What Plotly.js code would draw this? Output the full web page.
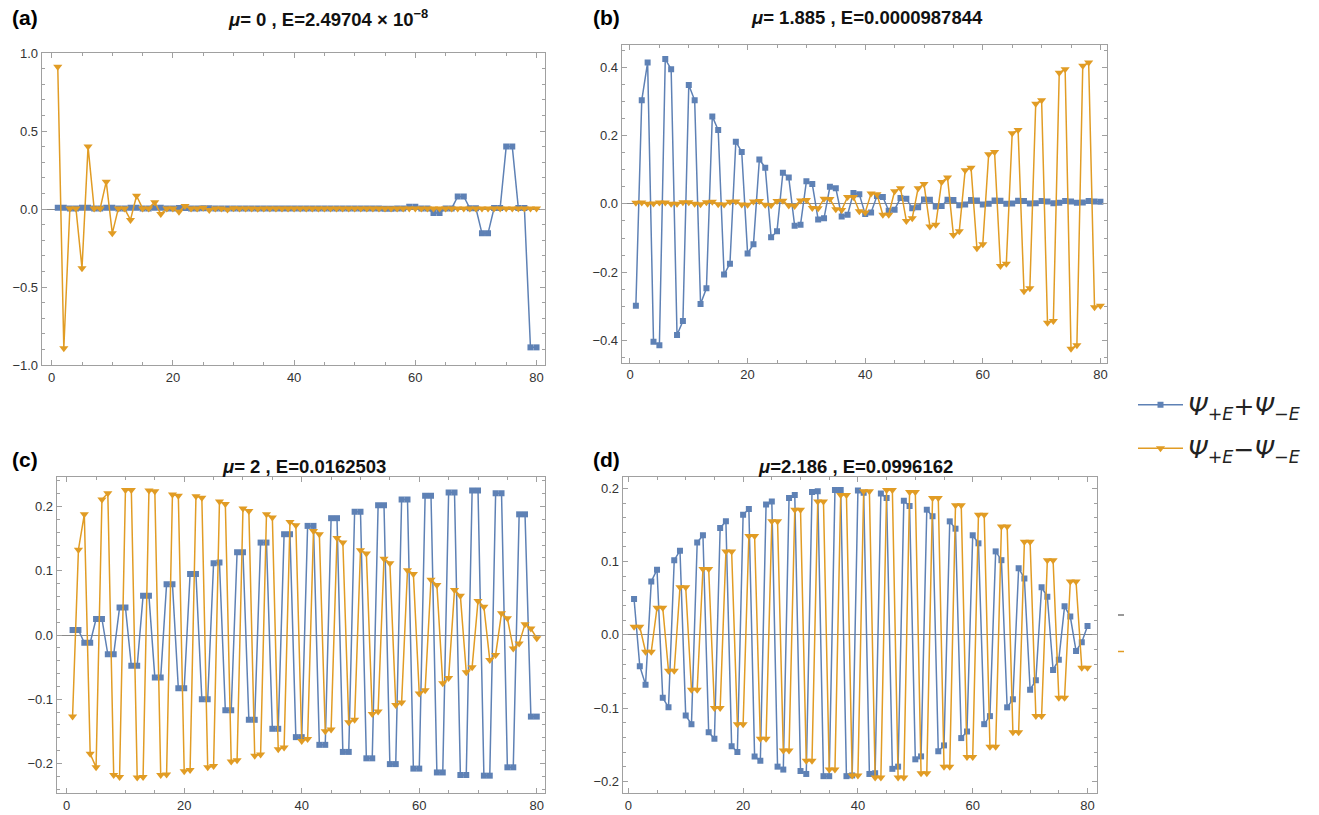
<!DOCTYPE html>
<html><head><meta charset="utf-8">
<script src="https://cdn.plot.ly/plotly-3.0.1.min.js"></script>
<style>html,body{margin:0;padding:0;background:#fff}#chart{width:1319px;height:815px}</style>
</head><body><div id="chart"></div>
<script>
const sites = [1,2,3,4,5,6,7,8,9,10,11,12,13,14,15,16,17,18,19,20,21,22,23,24,25,26,27,28,29,30,31,32,33,34,35,36,37,38,39,40,41,42,43,44,45,46,47,48,49,50,51,52,53,54,55,56,57,58,59,60,61,62,63,64,65,66,67,68,69,70,71,72,73,74,75,76,77,78,79,80];

// (a) mu = 0
const aSum = [0.008,0.008,0.003,0.003,0.008,0.008,0.003,0.003,0.008,0.008,0.003,0.003,0.008,0.008,0.003,0.003,0.008,0.008,0.003,0.003,
  0.006,0.006,0.003,0.003,0.005,0.005,0.003,0.003,0.004,0.004,0.003,0.003,0.004,0.004,0.003,0.003,0.003,0.003,0.003,0.003,
  0.003,0.003,0.003,0.003,0.003,0.003,0.003,0.003,0.003,0.003,0.003,0.003,0.003,0.003,0.002,0.002,0.004,0.004,0.015,0.015,
  0.003,0.003,-0.025,-0.025,0.004,0.004,0.080,0.080,0.005,0.005,-0.156,-0.156,0.006,0.006,0.400,0.400,0.006,0.006,-0.887,-0.887];
const aDiff = [0.912,-0.893,0.004,0.004,-0.380,0.400,0.004,0.004,0.175,-0.156,0.004,0.004,-0.070,0.085,0.004,0.004,0.043,-0.032,0.004,0.004,
  -0.017,0.020,0.003,0.003,0.008,-0.006,0.003,0.003,-0.004,0.005,0.003,0.003,0.004,0.002,0.003,0.003,0.003,0.003,0.003,0.003,
  0.003,0.003,0.003,0.003,0.003,0.003,0.003,0.003,0.003,0.003,0.003,0.003,0.003,0.003,0.003,0.003,0.003,0.003,0.003,0.003,
  0.003,0.003,0.003,0.003,0.003,0.003,0.003,0.003,0.003,0.003,0.003,0.003,0.003,0.003,0.003,0.003,0.003,0.003,0.003,0.003];

// (b) mu = 1.885
const bSum = [-0.298,0.303,0.414,-0.404,-0.414,0.424,0.394,-0.384,-0.343,0.348,0.303,-0.293,-0.247,0.256,0.216,-0.207,-0.175,0.182,0.152,-0.145,
  -0.118,0.130,0.106,-0.098,-0.080,0.091,0.077,-0.064,-0.061,0.066,0.058,-0.046,-0.042,0.050,0.046,-0.037,-0.032,0.032,0.028,-0.030,
  -0.025,0.023,0.020,-0.020,-0.017,0.017,0.015,-0.013,-0.010,0.013,0.012,-0.008,-0.006,0.012,0.011,-0.004,-0.002,0.011,0.010,-0.002,
  0.000,0.010,0.009,0.000,0.001,0.009,0.008,0.001,0.002,0.008,0.007,0.002,0.003,0.008,0.007,0.003,0.004,0.008,0.007,0.006];
const bDiff = [0.003,0.004,0.000,0.001,0.004,0.004,0.000,0.000,0.005,0.005,0.000,-0.001,0.005,0.006,-0.001,-0.002,0.006,0.007,-0.002,-0.003,
  0.007,0.008,-0.003,-0.004,0.008,0.009,-0.005,-0.006,0.010,0.011,-0.012,-0.013,0.015,0.014,-0.016,-0.018,0.020,0.020,-0.022,-0.025,
  0.030,0.028,-0.032,-0.032,0.037,0.046,-0.050,-0.042,0.046,0.058,-0.066,-0.061,0.064,0.077,-0.091,-0.080,0.098,0.106,-0.130,-0.118,
  0.145,0.152,-0.182,-0.175,0.207,0.216,-0.256,-0.247,0.293,0.303,-0.348,-0.343,0.384,0.394,-0.424,-0.414,0.404,0.414,-0.303,-0.298];

// (c) mu = 2
const cSum = [0.008,0.008,-0.012,-0.012,0.025,0.025,-0.030,-0.030,0.043,0.043,-0.048,-0.048,0.061,0.061,-0.066,-0.066,0.079,0.079,-0.083,-0.083,
  0.095,0.095,-0.100,-0.100,0.112,0.113,-0.117,-0.117,0.129,0.129,-0.132,-0.132,0.144,0.144,-0.146,-0.146,0.157,0.157,-0.159,-0.159,
  0.170,0.170,-0.171,-0.171,0.182,0.182,-0.182,-0.182,0.192,0.192,-0.192,-0.192,0.202,0.202,-0.201,-0.201,0.211,0.211,-0.208,-0.208,
  0.217,0.217,-0.214,-0.214,0.222,0.222,-0.218,-0.218,0.225,0.225,-0.219,-0.219,0.221,0.221,-0.206,-0.206,0.188,0.188,-0.127,-0.127];
const cDiff = [-0.127,0.133,0.188,-0.185,-0.206,0.211,0.221,-0.218,-0.221,0.226,0.226,-0.222,-0.221,0.225,0.224,-0.218,-0.217,0.219,0.217,-0.212,
  -0.210,0.216,0.214,-0.206,-0.204,0.208,0.204,-0.197,-0.195,0.197,0.193,-0.188,-0.186,0.188,0.183,-0.178,-0.175,0.176,0.171,-0.165,
  -0.162,0.162,0.157,-0.150,-0.147,0.151,0.144,-0.136,-0.132,0.132,0.127,-0.123,-0.119,0.119,0.112,-0.109,-0.105,0.101,0.095,-0.091,
  -0.086,0.086,0.078,-0.075,-0.067,0.070,0.061,-0.058,-0.050,0.053,0.044,-0.039,-0.031,0.034,0.026,-0.021,-0.013,0.017,0.010,-0.005];

// (d) mu = 2.186
const dSum = [0.049,-0.043,-0.068,0.073,0.089,-0.086,-0.099,0.102,0.115,-0.110,-0.122,0.126,0.136,-0.133,-0.142,0.146,0.155,-0.152,-0.160,0.164,
  0.172,-0.166,-0.172,0.178,0.182,-0.180,-0.184,0.187,0.191,-0.186,-0.190,0.195,0.196,-0.193,-0.193,0.198,0.198,-0.193,-0.192,0.197,
  0.194,-0.190,-0.189,0.193,0.187,-0.183,-0.180,0.183,0.176,-0.170,-0.166,0.171,0.162,-0.159,-0.151,0.155,0.145,-0.141,-0.132,0.136,
  0.125,-0.122,-0.111,0.114,0.102,-0.099,-0.088,0.091,0.077,-0.075,-0.062,0.065,0.052,-0.048,-0.034,0.039,0.025,-0.022,-0.010,0.012];
const dDiff = [0.011,0.011,-0.023,-0.023,0.037,0.037,-0.049,-0.049,0.065,0.065,-0.075,-0.075,0.090,0.090,-0.100,-0.100,0.114,0.114,-0.122,-0.122,
  0.135,0.135,-0.142,-0.142,0.155,0.155,-0.158,-0.158,0.171,0.171,-0.172,-0.172,0.182,0.182,-0.184,-0.184,0.191,0.191,-0.192,-0.192,
  0.196,0.196,-0.195,-0.195,0.198,0.198,-0.195,-0.195,0.195,0.195,-0.189,-0.189,0.187,0.187,-0.180,-0.180,0.177,0.177,-0.167,-0.167,
  0.164,0.164,-0.153,-0.153,0.148,0.148,-0.133,-0.133,0.127,0.127,-0.111,-0.111,0.102,0.102,-0.086,-0.086,0.073,0.073,-0.045,-0.045];

const panelLetters = ['(a)','(b)','(c)','(d)'];
const panelTitles = [
  '<b><i>μ</i>= 0 , E=2.49704 × 10<sup>−8</sup></b>',
  '<b><i>μ</i>= 1.885 , E=0.0000987844</b>',
  '<b><i>μ</i>= 2 , E=0.0162503</b>',
  '<b><i>μ</i>=2.186 , E=0.0996162</b>'
];
const seriesNames = [
  '<i>Ψ</i><sub>+<i>E</i></sub>+<i>Ψ</i><sub>−<i>E</i></sub>',
  '<i>Ψ</i><sub>+<i>E</i></sub>−<i>Ψ</i><sub>−<i>E</i></sub>'
];

const BLUE = '#5E81B5', ORANGE = '#E19C24';
const sumSets = [aSum, bSum, cSum, dSum];
const diffSets = [aDiff, bDiff, cDiff, dDiff];
const traces = [];
for (let p = 0; p < 4; p++) {
  const xa = p === 0 ? 'x' : 'x' + (p + 1);
  const ya = p === 0 ? 'y' : 'y' + (p + 1);
  traces.push({x: sites, y: sumSets[p], xaxis: xa, yaxis: ya, type: 'scatter', mode: 'lines+markers',
    name: seriesNames[0], legendgroup: 'g1', showlegend: p === 0,
    line: {color: BLUE, width: 1.5}, marker: {symbol: 'square', size: 6, color: BLUE}});
  traces.push({x: sites, y: diffSets[p], xaxis: xa, yaxis: ya, type: 'scatter', mode: 'lines+markers',
    name: seriesNames[1], legendgroup: 'g2', showlegend: p === 0,
    line: {color: ORANGE, width: 1.5}, marker: {symbol: 'triangle-down', size: 8, color: ORANGE}});
}

const W = 1319, H = 815;
const FR = '#a0a0a0';
const TICKFONT = {family: 'Liberation Sans, Arial, sans-serif', size: 13, color: '#333'};
function xax(l, r, range, anchor) {
  return {domain: [l / W, r / W], range: range, anchor: anchor, showline: true, linecolor: FR, linewidth: 1, mirror: 'allticks',
    ticks: 'inside', ticklen: 5, tickcolor: FR, tick0: 0, dtick: 20, showgrid: false, zeroline: false,
    tickfont: TICKFONT,
    minor: {ticks: 'inside', ticklen: 3, dtick: 5, tickcolor: FR, showgrid: false}};
}
function yax(t, b, range, dt, mdt, anchor) {
  return {domain: [1 - b / H, 1 - t / H], range: range, anchor: anchor, showline: true, linecolor: FR, linewidth: 1, mirror: 'allticks',
    ticks: 'inside', ticklen: 5, tickcolor: FR, tick0: 0, dtick: dt, tickformat: '.1f', showgrid: false,
    zeroline: true, zerolinecolor: '#8a8a8a', zerolinewidth: 1,
    tickfont: TICKFONT,
    minor: {ticks: 'inside', ticklen: 3, dtick: mdt, tickcolor: FR, showgrid: false}};
}

const letterPos = [[25, 18], [606, 18], [25, 460], [606, 460]];
const titlePos = [[328, 18], [867, 18], [304, 466], [856, 466]];
const annotations = [];
for (let p = 0; p < 4; p++) {
  annotations.push({xref: 'paper', yref: 'paper', x: letterPos[p][0] / W, y: 1 - letterPos[p][1] / H,
    xanchor: 'center', yanchor: 'middle', showarrow: false, text: '<b>' + panelLetters[p] + '</b>',
    font: {family: 'Liberation Sans, Arial, sans-serif', size: 21, color: '#000'}});
  annotations.push({xref: 'paper', yref: 'paper', x: titlePos[p][0] / W, y: 1 - titlePos[p][1] / H,
    xanchor: 'center', yanchor: 'middle', showarrow: false, text: panelTitles[p],
    font: {family: 'Liberation Sans, Arial, sans-serif', size: 18.5, color: '#111'}});
}

const layout = {
  width: W, height: H, margin: {l: 0, r: 0, t: 0, b: 0},
  paper_bgcolor: '#fff', plot_bgcolor: '#fff',
  xaxis: xax(41.7, 545, [-1.65, 81.4], 'y'),
  yaxis: yax(53, 365, [-1.0, 1.0], 0.5, 0.1, 'x'),
  xaxis2: xax(621.7, 1106.7, [-1.41, 81.07], 'y2'),
  yaxis2: yax(45, 362.7, [-0.465, 0.465], 0.2, 0.05, 'x2'),
  xaxis3: xax(56.7, 545, [-1.70, 81.4], 'y3'),
  yaxis3: yax(476.7, 793, [-0.246, 0.2466], 0.1, 0.02, 'x3'),
  xaxis4: xax(622.7, 1096.7, [-0.98, 81.6], 'y4'),
  yaxis4: yax(476.7, 793, [-0.216, 0.216], 0.1, 0.02, 'x4'),
  showlegend: true,
  legend: {x: 1133 / W, y: 1 - 382 / H, xanchor: 'left', yanchor: 'top', tracegroupgap: 8, itemwidth: 45,
    bgcolor: 'rgba(0,0,0,0)', font: {family: 'DejaVu Sans, sans-serif', size: 25, color: '#222'}},
  shapes: [
    {type: 'line', xref: 'paper', yref: 'paper', x0: 1118 / W, x1: 1124 / W, y0: 1 - 615 / H, y1: 1 - 615 / H, line: {color: '#777', width: 1.5}},
    {type: 'line', xref: 'paper', yref: 'paper', x0: 1118 / W, x1: 1124 / W, y0: 1 - 651.5 / H, y1: 1 - 651.5 / H, line: {color: ORANGE, width: 1.5}}
  ],
  annotations: annotations
};

Plotly.newPlot('chart', traces, layout, {displayModeBar: false, staticPlot: true});
</script>
</body></html>
